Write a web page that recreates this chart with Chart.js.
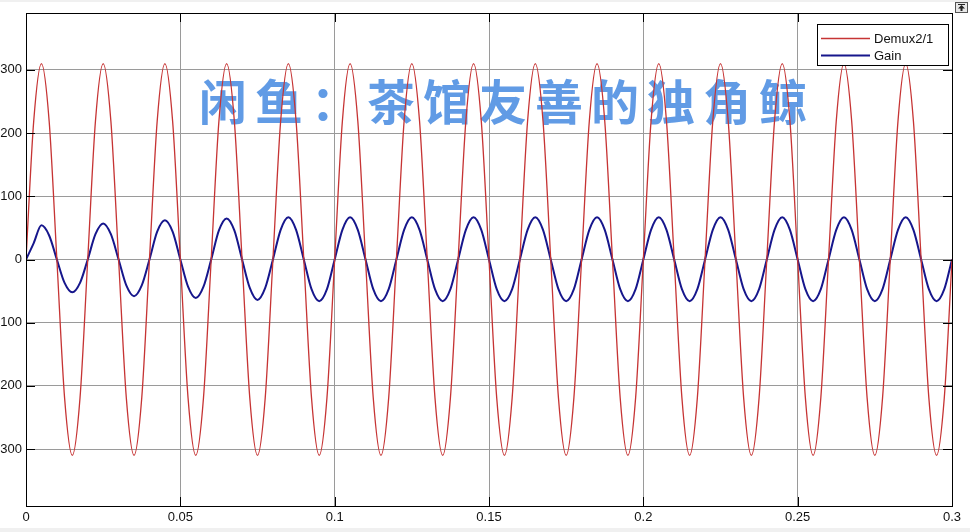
<!DOCTYPE html>
<html>
<head>
<meta charset="utf-8">
<script src="https://cdn.jsdelivr.net/npm/chart.js@4"></script>
<style>
  html, body { margin: 0; padding: 0; background: #fff; }
  #wrap { position: relative; width: 970px; height: 532px; }
</style>
</head>
<body>
<div id="wrap"><canvas id="myChart" width="970" height="532"></canvas></div>
<script>
// temps (s), un échantillon tous les 1/8 de période
const times = [
  0, 0.0025, 0.005, 0.0075, 0.01, 0.0125, 0.015, 0.0175,
  0.02, 0.0225, 0.025, 0.0275, 0.03, 0.0325, 0.035, 0.0375,
  0.04, 0.0425, 0.045, 0.0475, 0.05, 0.0525, 0.055, 0.0575,
  0.06, 0.0625, 0.065, 0.0675, 0.07, 0.0725, 0.075, 0.0775,
  0.08, 0.0825, 0.085, 0.0875, 0.09, 0.0925, 0.095, 0.0975,
  0.1, 0.1025, 0.105, 0.1075, 0.11, 0.1125, 0.115, 0.1175,
  0.12, 0.1225, 0.125, 0.1275, 0.13, 0.1325, 0.135, 0.1375,
  0.14, 0.1425, 0.145, 0.1475, 0.15, 0.1525, 0.155, 0.1575,
  0.16, 0.1625, 0.165, 0.1675, 0.17, 0.1725, 0.175, 0.1775,
  0.18, 0.1825, 0.185, 0.1875, 0.19, 0.1925, 0.195, 0.1975,
  0.2, 0.2025, 0.205, 0.2075, 0.21, 0.2125, 0.215, 0.2175,
  0.22, 0.2225, 0.225, 0.2275, 0.23, 0.2325, 0.235, 0.2375,
  0.24, 0.2425, 0.245, 0.2475, 0.25, 0.2525, 0.255, 0.2575,
  0.26, 0.2625, 0.265, 0.2675, 0.27, 0.2725, 0.275, 0.2775,
  0.28, 0.2825, 0.285, 0.2875, 0.29, 0.2925, 0.295, 0.2975,
  0.3
];

// Demux2/1 (rouge)
const demuxValues = [
  0, 219, 310, 219, 0, -219, -310, -219,
  0, 219, 310, 219, 0, -219, -310, -219,
  0, 219, 310, 219, 0, -219, -310, -219,
  0, 219, 310, 219, 0, -219, -310, -219,
  0, 219, 310, 219, 0, -219, -310, -219,
  0, 219, 310, 219, 0, -219, -310, -219,
  0, 219, 310, 219, 0, -219, -310, -219,
  0, 219, 310, 219, 0, -219, -310, -219,
  0, 219, 310, 219, 0, -219, -310, -219,
  0, 219, 310, 219, 0, -219, -310, -219,
  0, 219, 310, 219, 0, -219, -310, -219,
  0, 219, 310, 219, 0, -219, -310, -219,
  0, 219, 310, 219, 0, -219, -310, -219,
  0, 219, 310, 219, 0, -219, -310, -219,
  0, 219, 310, 219, 0, -219, -310, -219,
  0
];

// Gain (bleu), amplitude qui monte puis se stabilise
const gainValues = [
  0, 26, 54, 38, 0, -37, -52, -37,
  0, 40, 57, 40, 0, -41, -58, -41,
  0, 44, 62, 44, 0, -43, -61, -43,
  0, 46, 65, 46, 0, -45, -64, -45,
  0, 47, 67, 47, 0, -47, -66, -47,
  0, 47, 67, 47, 0, -47, -66, -47,
  0, 47, 67, 47, 0, -47, -66, -47,
  0, 47, 67, 47, 0, -47, -66, -47,
  0, 47, 67, 47, 0, -47, -66, -47,
  0, 47, 67, 47, 0, -47, -66, -47,
  0, 47, 67, 47, 0, -47, -66, -47,
  0, 47, 67, 47, 0, -47, -66, -47,
  0, 47, 67, 47, 0, -47, -66, -47,
  0, 47, 67, 47, 0, -47, -66, -47,
  0, 47, 67, 47, 0, -47, -66, -47,
  0
];

const seriesNames = ['Demux2/1', 'Gain'];
const xTicks = [0, 0.05, 0.1, 0.15, 0.2, 0.25, 0.3];
const xTickLabels = ['0', '0.05', '0.1', '0.15', '0.2', '0.25', '0.3'];
const yTicks = [-300, -200, -100, 0, 100, 200, 300];
const yTickLabels = ['300', '200', '100', '0', '100', '200', '300'];
const watermark = '闲鱼：茶馆友善的独角鲸';

const RED = 'rgb(198,52,52)';
const BLUE = 'rgb(22,22,140)';
const GRID = '#9a9a9a';
const FONT = '"Liberation Sans", Arial, sans-serif';

// fond, bandes grises, filigrane (sous les courbes)
const fondPlugin = {
  id: 'fond',
  beforeDraw(chart) {
    const ctx = chart.ctx;
    ctx.save();
    ctx.fillStyle = '#fff';
    ctx.fillRect(0, 0, chart.width, chart.height);
    ctx.fillStyle = '#f0f0f0';
    ctx.fillRect(0, 0, chart.width, 2);
    ctx.fillRect(0, 528, chart.width, 4);
    ctx.restore();
  },
  beforeDatasetsDraw(chart) {
    const ctx = chart.ctx;
    ctx.save();
    ctx.fillStyle = 'rgba(88,150,228,0.95)';
    ctx.font = 'bold 48px "Noto Sans CJK SC", sans-serif';
    ctx.textBaseline = 'middle';
    ctx.textAlign = 'left';
    [...watermark].forEach((ch, i) => {
      ctx.fillText(ch, 199 + i * 56, 102);
    });
    ctx.restore();
  }
};

// cadre, graduations internes, légende, petit bouton
const cadrePlugin = {
  id: 'cadre',
  afterDatasetsDraw(chart) {
    const ctx = chart.ctx;
    const a = chart.chartArea;
    const xs = chart.scales.x, ys = chart.scales.y;
    ctx.save();
    ctx.strokeStyle = '#000';
    ctx.lineWidth = 1;
    ctx.beginPath();
    yTicks.forEach(v => {
      const y = Math.round(ys.getPixelForValue(v)) + 0.5;
      ctx.moveTo(a.left, y); ctx.lineTo(a.left + 9, y);
      ctx.moveTo(a.right, y); ctx.lineTo(a.right - 9, y);
    });
    xTicks.forEach(v => {
      const x = Math.round(xs.getPixelForValue(v)) + 0.5;
      ctx.moveTo(x, a.top); ctx.lineTo(x, a.top + 9);
      ctx.moveTo(x, a.bottom); ctx.lineTo(x, a.bottom - 9);
    });
    ctx.stroke();
    ctx.strokeRect(Math.round(a.left) + 0.5, Math.round(a.top) + 0.5,
      Math.round(a.right - a.left), Math.round(a.bottom - a.top));

    // légende
    const lx = 817, ly = 24, lw = 131, lh = 41;
    ctx.fillStyle = '#fff';
    ctx.fillRect(lx, ly, lw, lh);
    ctx.strokeRect(lx + 0.5, ly + 0.5, lw, lh);
    ctx.font = '13px ' + FONT;
    ctx.textBaseline = 'middle';
    ctx.textAlign = 'left';
    [RED, BLUE].forEach((c, i) => {
      const y = 38.5 + i * 17;
      ctx.strokeStyle = c;
      ctx.lineWidth = i === 0 ? 1.3 : 2;
      ctx.beginPath();
      ctx.moveTo(821, y); ctx.lineTo(870, y);
      ctx.stroke();
      ctx.fillStyle = '#111';
      ctx.fillText(seriesNames[i], 874, y + 1);
    });

    // bouton en haut à droite
    ctx.fillStyle = '#e8e8e8';
    ctx.fillRect(955, 2, 13, 11);
    ctx.strokeStyle = '#555';
    ctx.lineWidth = 1;
    ctx.strokeRect(955.5, 2.5, 12, 10);
    ctx.fillStyle = '#222';
    ctx.beginPath();
    ctx.moveTo(961.5, 5); ctx.lineTo(965, 8.5); ctx.lineTo(958, 8.5);
    ctx.closePath(); ctx.fill();
    ctx.fillRect(960.5, 8, 2, 3);
    ctx.fillRect(958, 4, 7, 1);
    ctx.restore();
  }
};

const ctx = document.getElementById('myChart').getContext('2d');
new Chart(ctx, {
  type: 'line',
  data: {
    datasets: [
      {
        label: seriesNames[0],
        data: times.map((t, i) => ({ x: t, y: demuxValues[i] })),
        borderColor: RED,
        borderWidth: 1.3,
        pointRadius: 0,
        cubicInterpolationMode: 'monotone'
      },
      {
        label: seriesNames[1],
        data: times.map((t, i) => ({ x: t, y: gainValues[i] })),
        borderColor: BLUE,
        borderWidth: 2,
        pointRadius: 0,
        cubicInterpolationMode: 'monotone'
      }
    ]
  },
  options: {
    responsive: false,
    animation: false,
    events: [],
    layout: { padding: { top: 13, right: 18, left: 0, bottom: 0 } },
    plugins: { legend: { display: false }, tooltip: { enabled: false } },
    scales: {
      x: {
        type: 'linear',
        min: 0, max: 0.3,
        afterBuildTicks: axis => { axis.ticks = xTicks.map(v => ({ value: v })); },
        afterFit: s => { s.height = 26; },
        ticks: {
          autoSkip: false, maxRotation: 0, padding: 4,
          color: '#111', font: { family: FONT, size: 13 },
          callback: (v, i) => xTickLabels[i]
        },
        grid: { color: GRID, drawTicks: false },
        border: { display: false }
      },
      y: {
        min: -390, max: 390,
        afterBuildTicks: axis => { axis.ticks = yTicks.map(v => ({ value: v })); },
        afterFit: s => { s.width = 26; },
        ticks: {
          autoSkip: false, padding: 4,
          color: '#111', font: { family: FONT, size: 13 },
          callback: (v, i) => yTickLabels[i]
        },
        grid: { color: GRID, drawTicks: false },
        border: { display: false }
      }
    }
  },
  plugins: [fondPlugin, cadrePlugin]
});
</script>
</body>
</html>
